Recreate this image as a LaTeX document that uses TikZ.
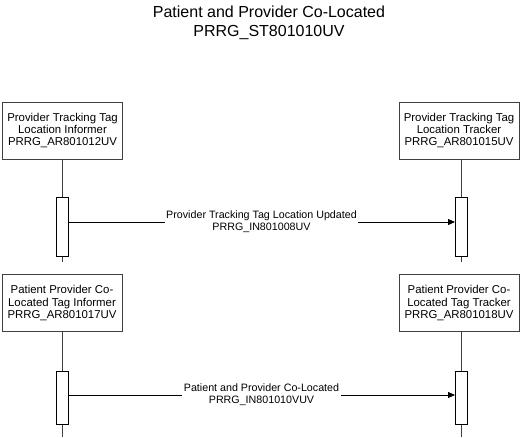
\documentclass[tikz,border=0pt]{standalone}
\usepackage{fontspec}
\setmainfont{Liberation Sans}
\usetikzlibrary{arrows.meta}
\definecolor{edgegray}{HTML}{404040}
\tikzset{
  x=1pt, y=-1pt,
  rolebox/.style={draw=edgegray, line width=0.9pt, fill=white, minimum width=120pt, minimum height=57pt,
    align=center, font=\fontsize{11.4}{12.2}\selectfont, inner sep=1pt},
  actbox/.style={draw=black, line width=0.8pt, fill=white, minimum width=12pt, minimum height=59pt, inner sep=0pt},
  lifeline/.style={draw=edgegray, line width=0.8pt},
  msg/.style={draw=black, line width=0.8pt, -{Triangle[length=7pt,width=6pt]}},
  msglabel/.style={fill=white, align=center, font=\fontsize{10.7}{12}\selectfont, inner sep=1.5pt},
  titletext/.style={align=center, font=\fontsize{16}{19}\selectfont}
}
\begin{document}
\begin{tikzpicture}
\useasboundingbox (0,0) rectangle (525,437);
\node[titletext] (title) at (269,23) {Patient and Provider Co-Located\\PRRG\_ST801010UV};

% top pair
\node[rolebox] (ptlInf) at (62.5,130.5) {Provider Tracking Tag\\Location Informer\\PRRG\_AR801012UV};
\node[rolebox] (ptlTrk) at (459,130.5) {Provider Tracking Tag\\Location Tracker\\PRRG\_AR801015UV};
\coordinate (endA) at (62,262);
\coordinate (endB) at (461,262);
\draw[lifeline] (ptlInf.south -| endA) -- (endA);
\draw[lifeline] (ptlTrk.south -| endB) -- (endB);
\node[actbox] (actA) at (62,226.5) {};
\node[actbox] (actB) at (461,226.5) {};
\coordinate (mA) at (68,222);
\coordinate (mB) at (455,222);
\draw[msg] (mA) -- node[msglabel] (lab1) {Provider Tracking Tag Location Updated\\PRRG\_IN801008UV} (mB);

% bottom pair
\node[rolebox] (ppInf) at (62,303) {Patient Provider Co-\\Located Tag Informer\\PRRG\_AR801017UV};
\node[rolebox] (ppTrk) at (459,303) {Patient Provider Co-\\Located Tag Tracker\\PRRG\_AR801018UV};
\coordinate (endC) at (62,437);
\coordinate (endD) at (461,437);
\draw[lifeline] (ppInf.south -| endC) -- (endC);
\draw[lifeline] (ppTrk.south -| endD) -- (endD);
\node[actbox, minimum height=53pt] (actC) at (62,397.5) {};
\node[actbox, minimum height=53pt] (actD) at (461,397.5) {};
\coordinate (mC) at (68,395);
\coordinate (mD) at (455,395);
\draw[msg] (mC) -- node[msglabel] (lab2) {Patient and Provider Co-Located\\PRRG\_IN801010VUV} (mD);
\end{tikzpicture}
\end{document}
